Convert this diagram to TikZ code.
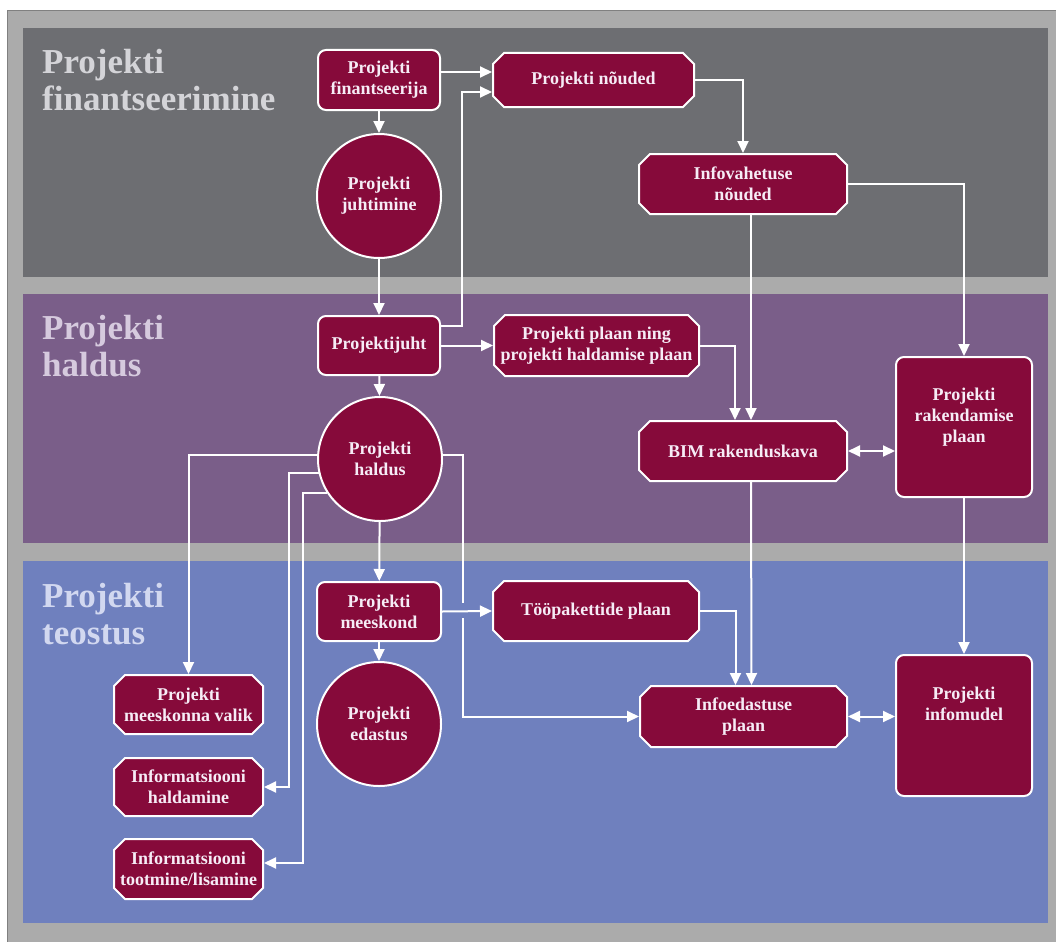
\documentclass[tikz,border=0pt]{standalone}
\usepackage{fontspec}
\setmainfont{Liberation Serif}
\usetikzlibrary{arrows.meta,shapes.misc}

\definecolor{framegray}{RGB}{171,171,171}
\definecolor{frameline}{RGB}{128,128,128}
\definecolor{bandA}{RGB}{109,110,114}
\definecolor{bandB}{RGB}{122,94,137}
\definecolor{bandC}{RGB}{111,128,190}
\definecolor{headA}{RGB}{212,212,216}
\definecolor{headB}{RGB}{214,202,222}
\definecolor{headC}{RGB}{210,216,240}
\definecolor{nodefill}{RGB}{134,10,58}
\definecolor{nodetext}{RGB}{246,236,246}

\newcommand\boxfont{\bfseries\fontsize{18}{21}\selectfont}
\newcommand\headfont{\bfseries\fontsize{35}{37}\selectfont}

\begin{document}
\begin{tikzpicture}[x=1pt,y=-1pt,
  box/.style={fill=nodefill, draw=white, line width=2pt, text=nodetext,
    font=\boxfont, align=center, inner sep=0pt},
  rbox/.style={box, rectangle, rounded corners=8pt},
  obox/.style={box, chamfered rectangle, chamfered rectangle xsep=5.5pt,
    chamfered rectangle ysep=5.5pt},
  cbox/.style={box, circle, minimum size=124pt},
  boxtext/.style={text=nodetext, font=\boxfont, align=center, inner sep=0pt},
  head/.style={font=\headfont, align=left, inner sep=0pt, anchor=north west},
  ln/.style={draw=white, line width=2pt},
  arr/.style={ln, -{Triangle[length=12pt,width=11pt]}},
  darr/.style={ln, {Triangle[length=12pt,width=11pt]}-{Triangle[length=12pt,width=11pt]}}]

% canvas and frame
\useasboundingbox (0,0) rectangle (1056,942);
\fill[white] (0,0) rectangle (1056,942);
\fill[framegray] (7,10) rectangle (1056,942);
\draw[frameline, line width=1.5pt] (1056,10.5) -- (7.5,10.5) -- (7.5,942);

% three bands
\fill[bandA] (23,28) rectangle (1048,277);
\fill[bandB] (23,294) rectangle (1048,543);
\fill[bandC] (23,561) rectangle (1048,923);

% band titles
\node[head, text=headA] (tA) at (42,49) {Projekti\\finantseerimine};
\node[head, text=headB] (tB) at (42,315) {Projekti\\haldus};
\node[head, text=headC] (tC) at (42,583) {Projekti\\teostus};

% boxes
\node[rbox, minimum width=122pt, minimum height=60pt] (fin) at (379,80) {Projekti\\finantseerija};
\node[obox, minimum width=201pt, minimum height=54pt] (noue) at (593.5,80) {Projekti nõuded};
\node[cbox] (juht) at (379,196) {Projekti\\juhtimine};
\node[obox, minimum width=208pt, minimum height=60pt] (infov) at (743,184) {Infovahetuse\\nõuded};

\node[rbox, minimum width=122pt, minimum height=59pt] (pjuht) at (379,345.5) {Projektijuht};
\node[obox, minimum width=205pt, minimum height=61pt] (plaan) at (596.5,345.5) {Projekti plaan ning\\projekti haldamise plaan};
\node[cbox] (haldus) at (380,459) {Projekti\\haldus};
\node[obox, minimum width=208pt, minimum height=60pt] (bim) at (743,451) {BIM rakenduskava};
\node[rbox, minimum width=136pt, minimum height=140pt] (rak) at (964,427) {};
\node[boxtext] at ([yshift=10pt]rak.center) {Projekti\\rakendamise\\plaan};

\node[rbox, minimum width=124pt, minimum height=59pt] (meesk) at (379,611.5) {Projekti\\meeskond};
\node[obox, minimum width=206pt, minimum height=60pt] (toop) at (596,611) {Tööpakettide plaan};
\node[cbox] (edastus) at (379,724) {Projekti\\edastus};
\node[obox, minimum width=207pt, minimum height=61pt] (infoed) at (743.5,716.5) {Infoedastuse\\plaan};
\node[rbox, minimum width=136pt, minimum height=141pt] (info) at (964,725.5) {};
\node[boxtext] at ([yshift=22pt]info.center) {Projekti\\infomudel};

\node[obox, minimum width=149pt, minimum height=59pt] (valik) at (188.5,704.5) {Projekti\\meeskonna valik};
\node[obox, minimum width=149pt, minimum height=58pt] (infohald) at (188.5,787) {Informatsiooni\\haldamine};
\node[obox, minimum width=149pt, minimum height=60pt] (tootm) at (188.5,869) {Informatsiooni\\tootmine/lisamine};

% vertical chain on the left
\draw[arr] (fin) -- (juht);
\draw[arr] (juht) -- (pjuht);
\draw[arr] (pjuht) -- (haldus);
\draw[arr] (haldus) -- (meesk);
\draw[arr] (meesk) -- (edastus);

% financing and requirements
\draw[arr] ([yshift=8pt]fin.east) -- ([yshift=8pt]noue.west);
\draw[arr] ([yshift=20pt]pjuht.east) -| ([xshift=-30pt,yshift=-12pt]noue.west) -- ([yshift=-12pt]noue.west);
\draw[arr] (noue.east) -| (infov.north);
\draw[arr] (infov.east) -| (rak.north);
\draw[arr] ([xshift=8pt]infov.south) -- ([xshift=8pt]bim.north);

% management plans
\draw[arr] (pjuht.east) -- (plaan.west);
\draw[arr] (plaan.east) -| ([xshift=-8pt]bim.north);
\draw[darr] (bim.east) -- (bim.east -| rak.west);
\draw[arr] ([xshift=8pt]bim.south) -- ([xshift=8pt]infoed.north);
\draw[arr] (rak.south) -- (info.north);

% delivery
\draw[arr] (meesk.east) -- (toop.west);
\draw[arr] (toop.east) -| ([xshift=-8pt]infoed.north);
\draw[darr] (infoed.east) -- (infoed.east -| info.west);

% branches from project management
\coordinate (gapTop) at (463,603);
\coordinate (gapBot) at (463,618);
\draw[ln] (haldus.4) -| (gapTop);
\draw[arr] (gapBot) |- (infoed.west);
\draw[arr] (haldus.176) -| (valik.north);
\draw[arr] (haldus.193) -| ([xshift=25pt]infohald.east) -- (infohald.east);
\draw[arr] (haldus.213) -| ([xshift=39pt,yshift=6pt]tootm.east) -- ([yshift=6pt]tootm.east);

\end{tikzpicture}
\end{document}
